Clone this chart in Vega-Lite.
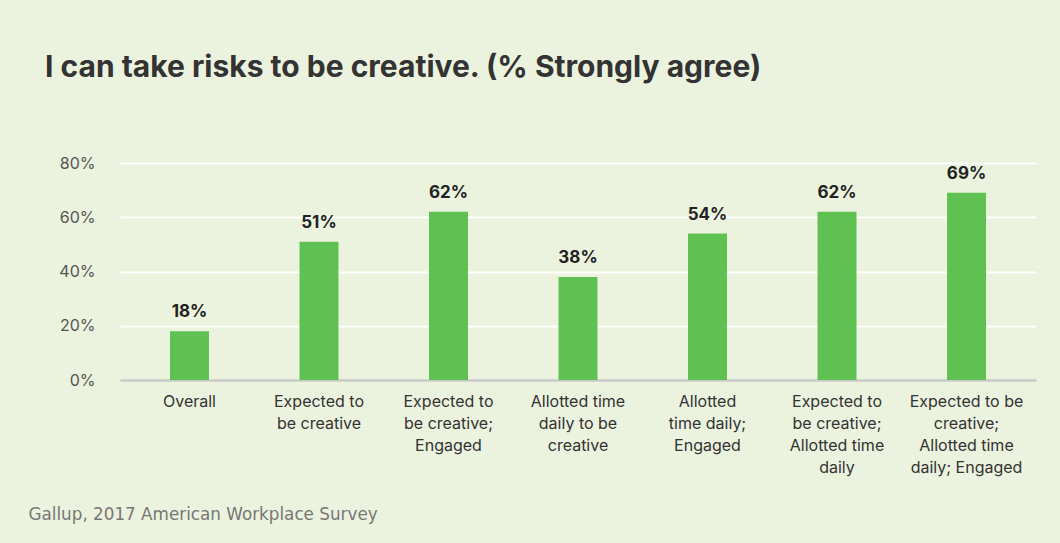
{
  "$schema": "https://vega.github.io/schema/vega-lite/v6.json",
  "width": 916,
  "height": 217,
  "autosize": {"type": "none"},
  "padding": {"left": 120, "top": 163, "right": 24, "bottom": 163},
  "background": "#ebf2dd",
  "config": {"view": {"stroke": null}, "font": "Inter"},
  "title": {
    "text": "I can take risks to be creative. (% Strongly agree)",
    "anchor": "start",
    "frame": "group",
    "dx": -75,
    "offset": 72,
    "fontSize": 30,
    "fontWeight": "bold",
    "color": "#333333"
  },
  "data": {
    "values": [
      {"group": "Overall", "value": 0.18},
      {"group": "Expected to|be creative", "value": 0.51},
      {"group": "Expected to|be creative;|Engaged", "value": 0.62},
      {"group": "Allotted time|daily to be|creative", "value": 0.38},
      {"group": "Allotted|time daily;|Engaged", "value": 0.54},
      {"group": "Expected to|be creative;|Allotted time|daily", "value": 0.62},
      {"group": "Expected to be|creative;|Allotted time|daily; Engaged", "value": 0.69}
    ]
  },
  "encoding": {
    "x": {
      "field": "group",
      "type": "nominal",
      "sort": null,
      "scale": {"paddingInner": 0.699, "paddingOuter": 0.386},
      "axis": {
        "labelAngle": 0,
        "labelExpr": "split(datum.label, '|')",
        "labelFontSize": 16,
        "labelColor": "#333333",
        "labelLineHeight": 22,
        "labelPadding": 13,
        "labelLimit": 0,
        "labelBaseline": "top",
        "ticks": false,
        "domain": true,
        "domainColor": "#c9c9c9",
        "domainWidth": 2,
        "title": "Gallup, 2017 American Workplace Survey",
        "titleX": -92,
        "titleY": 139,
        "titleAlign": "left",
        "titleAnchor": "start",
        "titleBaseline": "alphabetic",
        "titleFont": "DejaVu Sans",
        "titleFontSize": 16.8,
        "titleFontWeight": "normal",
        "titleColor": "#777777"
      }
    },
    "y": {
      "field": "value",
      "type": "quantitative",
      "scale": {"domain": [0, 0.8]},
      "axis": {
        "values": [0, 0.2, 0.4, 0.6, 0.8],
        "format": ".0%",
        "title": null,
        "domain": false,
        "ticks": false,
        "labelPadding": 25,
        "labelFontSize": 16,
        "labelColor": "#555555",
        "grid": true,
        "gridColor": {"condition": {"test": "datum.value === 0", "value": "#c9c9c9"}, "value": "#ffffff"},
        "gridWidth": 2
      }
    }
  },
  "layer": [
    {"mark": {"type": "bar", "color": "#60c153"}},
    {
      "mark": {"type": "text", "dy": -14, "baseline": "alphabetic", "fontWeight": "bold", "fontSize": 17, "color": "#222222"},
      "encoding": {"text": {"field": "value", "type": "quantitative", "format": ".0%"}}
    }
  ]
}
